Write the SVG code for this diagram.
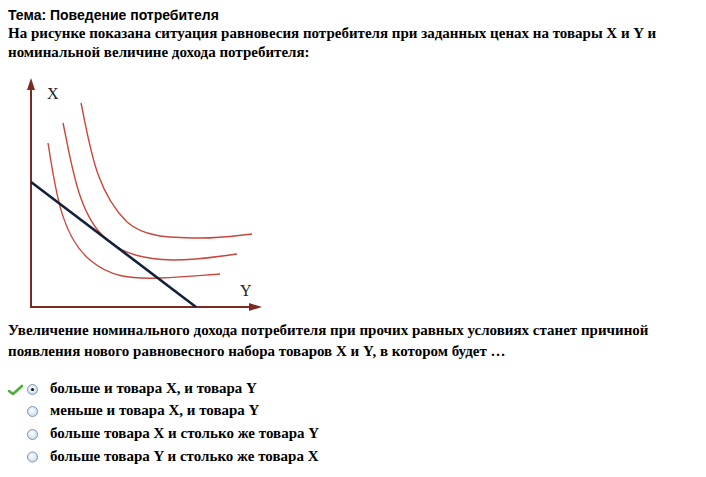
<svg xmlns="http://www.w3.org/2000/svg" width="706" height="477" viewBox="0 0 706 477">
<style>
.t{font-family:"Liberation Sans",Arial,sans-serif;font-weight:bold;font-size:14px;fill:#000}
.s{font-family:"Liberation Serif","Times New Roman",serif;font-weight:bold;font-size:15px;fill:#000}
.l{font-family:"Liberation Serif","Times New Roman",serif;font-size:16px;fill:#222}
.ax{stroke:#7b2a22;stroke-width:2;fill:none}
.ic{stroke:#c9473b;stroke-width:1.4;fill:none}
.rb{fill:url(#rg);stroke:#7d97c0;stroke-width:1}
</style>
<defs>
<radialGradient id="rg" cx="0.45" cy="0.4" r="0.6">
<stop offset="0" stop-color="#ffffff"/>
<stop offset="1" stop-color="#c9d8ee"/>
</radialGradient>
</defs>
<rect width="706" height="477" fill="#fff"/>
<text class="t" x="8" y="20">Тема: Поведение потребителя</text>
<text class="s" x="8" y="38">На рисунке показана ситуация равновесия потребителя при заданных ценах на товары X и Y и</text>
<text class="s" x="8" y="57">номинальной величине дохода потребителя:</text>
<g id="axes">
<path class="ax" d="M31,86 V307 H252"/>
<path d="M31,78 L27,90 L35,90 Z M262,307 L249,303 L249,311 Z" fill="#7b2a22"/>
<text class="l" x="47" y="99">X</text>
<text class="l" x="240" y="296">Y</text>
</g>
<g id="curves">
<path class="ic" d="M48,143 C55,185 60,235 90,260 C110,277 130,279 160,278 C185,277 205,275 220,274"/>
<path class="ic" d="M63,123 C72,165 78,215 107,240 C125,255 145,259 173,260 C200,260 220,256 237,254"/>
<path class="ic" d="M81,103 C90,145 95,190 127,222 C143,236 165,238 200,238 C225,238 240,235 252,234"/>
</g>
<g id="budget">
<path d="M31,182 L196,307" stroke="#14213d" stroke-width="2.6" fill="none"/>
</g>
<text class="s" x="8" y="335">Увеличение номинального дохода потребителя при прочих равных условиях станет причиной</text>
<text class="s" x="8" y="356">появления нового равновесного набора товаров X и Y, в котором будет …</text>
<g id="opt1">
<path d="M9,391 L13,394 L22,386" stroke="#4caf3a" stroke-width="2.6" fill="none" stroke-linecap="round" stroke-linejoin="round"/>
<circle class="rb" cx="32.5" cy="389.5" r="5"/>
<circle cx="32.5" cy="389.5" r="1.6" fill="#1a1a1a"/>
<text class="s" x="50" y="393">больше и товара X, и товара Y</text>
</g>
<g id="opt2">
<circle class="rb" cx="32.5" cy="411.5" r="5"/>
<text class="s" x="50" y="415">меньше и товара X, и товара Y</text>
</g>
<g id="opt3">
<circle class="rb" cx="32.5" cy="434.5" r="5"/>
<text class="s" x="50" y="438">больше товара X и столько же товара Y</text>
</g>
<g id="opt4">
<circle class="rb" cx="32.5" cy="457" r="5"/>
<text class="s" x="50" y="461">больше товара Y и столько же товара X</text>
</g>
</svg>
